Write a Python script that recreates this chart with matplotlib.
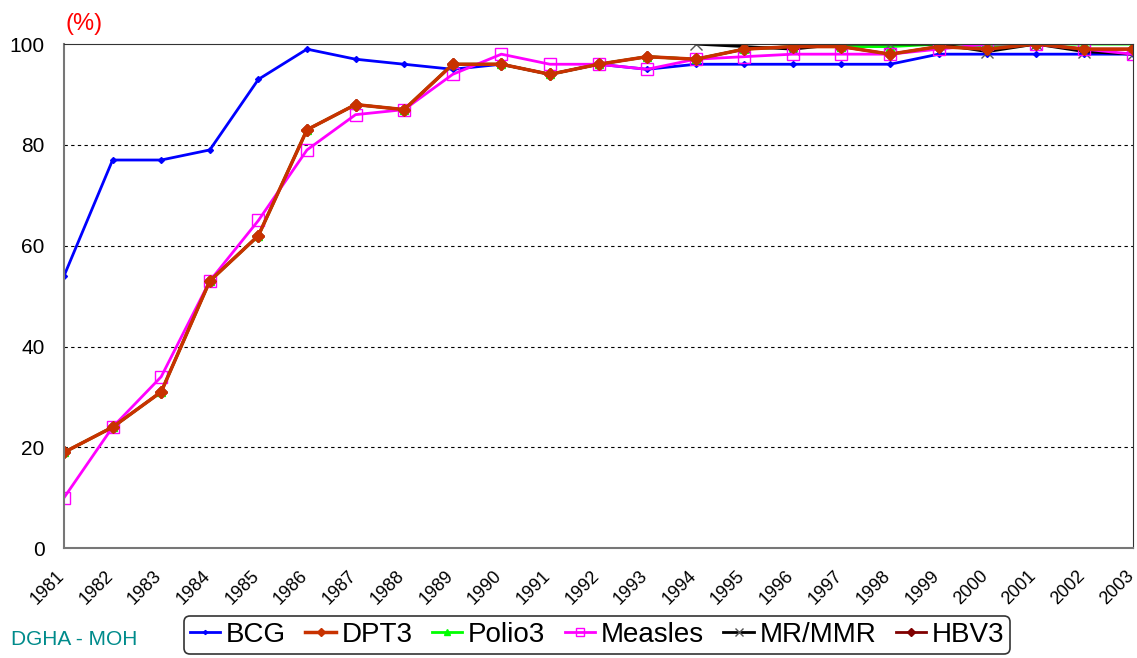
import matplotlib
matplotlib.use("Agg")
import matplotlib.pyplot as plt
from matplotlib.transforms import ScaledTranslation

plt.rcParams['font.family'] = ['Liberation Sans', 'DejaVu Sans']

years = list(range(1981, 2004))
bcg = [54, 77, 77, 79, 93, 99, 97, 96, 95, 96, 94, 96, 95, 96, 96, 96, 96, 96, 98, 98, 98, 98, 98]
dpt3 = [19, 24, 31, 53, 62, 83, 88, 87, 96, 96, 94, 96, 97.5, 97, 99, 99.5, 99.5, 98, 99.5, 99, 100, 99, 99]
polio3 = [19, 24, 31, 53, 62, 83, 88, 87, 96, 96, 94, 96, 97.5, 97, 99, 99.5, 99.5, 99.5, 100, 99.5, 100, 100, 100]
measles = [10, 24, 34, 53, 65, 79, 86, 87, 94, 98, 96, 96, 95, 97, 97.5, 98, 98, 98, 99, 100, 100, 99, 98]
mmr_years = list(range(1994, 2004))
mmr = [100, 99.5, 99, 100, 100, 100, 98.5, 100, 98.5, 98]
hbv3 = [19, 24, 31, 53, 62, 83, 88, 87, 96, 96, 94, 96, 97.5, 97, 99, 99.5, 99.5, 98, 99.5, 99, 100, 99, 99]

fig = plt.figure(figsize=(11.37, 6.58), dpi=100)
ax = fig.add_axes([0.0563, 0.167, 0.9402, 0.766])

ax.plot(years, bcg, color='#0000ff', lw=2, marker='D', ms=3, label='BCG')
ax.plot(years, hbv3, color='#800000', lw=2, marker='D', ms=6, label='HBV3', zorder=1.9)
ax.plot(years, polio3, color='#00ff00', lw=2, marker='^', ms=6, label='Polio3')
ax.plot(mmr_years, mmr, color='black', lw=2, marker='x', ms=8, mec='#555555', label='MR/MMR')
ax.plot(years, measles, color='#ff00ff', lw=2, marker='s', ms=8, mfc='none', label='Measles')
ax.plot(years, dpt3, color='#c83200', lw=2.5, marker='D', ms=6, label='DPT3')

ax.set_xlim(1981, 2003)
ax.set_ylim(0, 100)
ax.set_yticks([0, 20, 40, 60, 80, 100])
ax.set_xticks(years)
ax.set_xticklabels([str(y) for y in years], rotation=45, ha='right', va='top',
                   rotation_mode='anchor', fontsize=13)
ax.tick_params(axis='y', labelsize=15, length=0, pad=14)
ax.tick_params(axis='x', length=0, pad=14)
shift = ScaledTranslation(-8 / 100, 0, fig.dpi_scale_trans)
for lab in ax.xaxis.get_majorticklabels():
    lab.set_transform(lab.get_transform() + shift)
for y in [20, 40, 60, 80]:
    ax.axhline(y, color='black', lw=0.8, ls=(0, (3, 3)), zorder=0)
for s in ax.spines.values():
    s.set_color('#333333')
ax.spines['left'].set_color('#777777')
ax.spines['bottom'].set_color('#777777')
ax.spines['left'].set_linewidth(1.5)
ax.spines['bottom'].set_linewidth(1.5)

fig.text(0.058, 0.955, '(%)', color='red', fontsize=17)

h, l = ax.get_legend_handles_labels()
order = ['BCG', 'DPT3', 'Polio3', 'Measles', 'MR/MMR', 'HBV3']
hs = [h[l.index(o)] for o in order]
leg = fig.legend(hs, order, loc='center', bbox_to_anchor=(0.525, 0.035), ncol=6, fontsize=20,
                 frameon=True, fancybox=True, edgecolor='black', handlelength=1.1,
                 handletextpad=0.2, columnspacing=0.7, borderpad=0.2, markerscale=0.7)
leg.get_frame().set_linewidth(1.2)

fig.text(0.01, 0.02, 'DGHA - MOH', color='#008b8b', fontsize=15)

fig.savefig('out.png', dpi=100)
